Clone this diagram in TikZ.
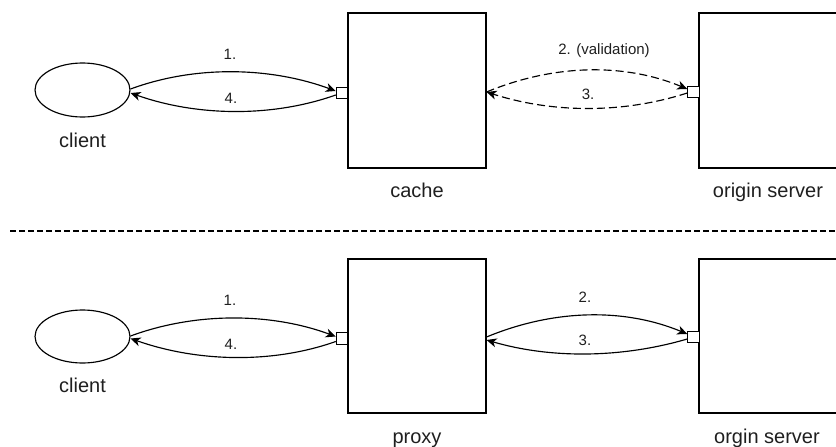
\documentclass[tikz,border=0pt]{standalone}
\usepackage{fontspec}
\setmainfont{Liberation Sans}
\usetikzlibrary{arrows.meta,shapes.geometric}
\begin{document}
\begin{tikzpicture}[x=1pt,y=-1pt,line width=1.15pt,
  box/.style={draw,rectangle,minimum width=138pt,minimum height=155pt,inner sep=0pt},
  portbox/.style={draw,fill=white,rectangle,minimum width=11.5pt,minimum height=11.5pt,inner sep=0pt,line width=1pt},
  clientshape/.style={draw,ellipse,minimum width=95pt,minimum height=54pt,inner sep=0pt},
  biglabel/.style={anchor=base,inner sep=0pt,text=black!88,font=\fontsize{20}{24}\selectfont},
  smalllabel/.style={anchor=base,inner sep=0pt,text=black!88,font=\fontsize{15}{18}\selectfont},
  flow/.style={-{Stealth[length=10pt,width=9pt,inset=3pt]}},
  dflow/.style={flow,dash pattern=on 8pt off 4pt}]
\useasboundingbox (0,0) rectangle (836,447);
\clip (0,0) rectangle (836,447);

% ---- top row ----
\node[clientshape] (client1) at (82.5,90) {};
\node[box] (cache) at (417,90.5) {};
\node[box] (orig1) at (768,90.5) {};
\node[portbox] (port1) at (342,93) {};
\node[portbox] (port2) at (693.5,92) {};

\node[biglabel] (lclient1) at (82.5,147) {client};
\node[biglabel] (lcache) at (417,197) {cache};
\node[biglabel] (lorig1) at (768,197) {origin server};

\draw[flow] ([yshift=1pt]client1.east) .. controls +(65,-24) and +(-65,-24) .. ([yshift=2pt]port1.west);
\draw[flow] ([yshift=-2pt]port1.west) .. controls +(-65,23) and +(65,23) .. ([yshift=-3pt]client1.east);
\node[smalllabel] (l1a) at (230,59) {1.};
\node[smalllabel] (l4a) at (231,103) {4.};

\draw[dflow] ([yshift=-1.5pt]cache.east) .. controls +(65,-27) and +(-65,-27) .. ([yshift=3pt]port2.west);
\draw[dflow] ([yshift=-1pt]port2.west) .. controls +(-65,21) and +(65,21) .. ([yshift=-1.5pt]cache.east);
\node[smalllabel] (l2a) at (604,54) {2. (validation)};
\node[smalllabel] (l3a) at (588,99) {3.};

% ---- separator ----
\coordinate (sepL) at (10,231);
\coordinate (sepR) at (840,231);
\draw[dash pattern=on 6pt off 3pt] (sepL) -- (sepR);

% ---- bottom row ----
\node[clientshape,minimum height=53pt] (client2) at (82.5,336.5) {};
\node[box,minimum height=154pt] (proxy) at (417,336) {};
\node[box,minimum height=154pt] (orig2) at (768,336) {};
\node[portbox] (port3) at (342,338.5) {};
\node[portbox] (port4) at (693.5,337) {};

\node[biglabel] (lclient2) at (82.5,392) {client};
\node[biglabel] (lproxy) at (417,443) {proxy};
\node[biglabel] (lorig2) at (767,443) {orgin server};

\draw[flow] ([yshift=0.5pt]client2.east) .. controls +(65,-24) and +(-65,-24) .. ([yshift=2pt]port3.west);
\draw[flow] ([yshift=-3pt]port3.west) .. controls +(-65,23) and +(65,23) .. ([yshift=-2pt]client2.east);
\node[smalllabel] (l1b) at (230,305) {1.};
\node[smalllabel] (l4b) at (231,349) {4.};

\draw[flow] ([yshift=-1pt]proxy.east) .. controls +(65,-27) and +(-65,-27) .. ([yshift=3pt]port4.west);
\draw[flow] ([yshift=-2pt]port4.west) .. controls +(-65,19) and +(65,19) .. ([yshift=-4pt]proxy.east);
\node[smalllabel] (l2b) at (585,302) {2.};
\node[smalllabel] (l3b) at (585,345) {3.};
\end{tikzpicture}
\end{document}
